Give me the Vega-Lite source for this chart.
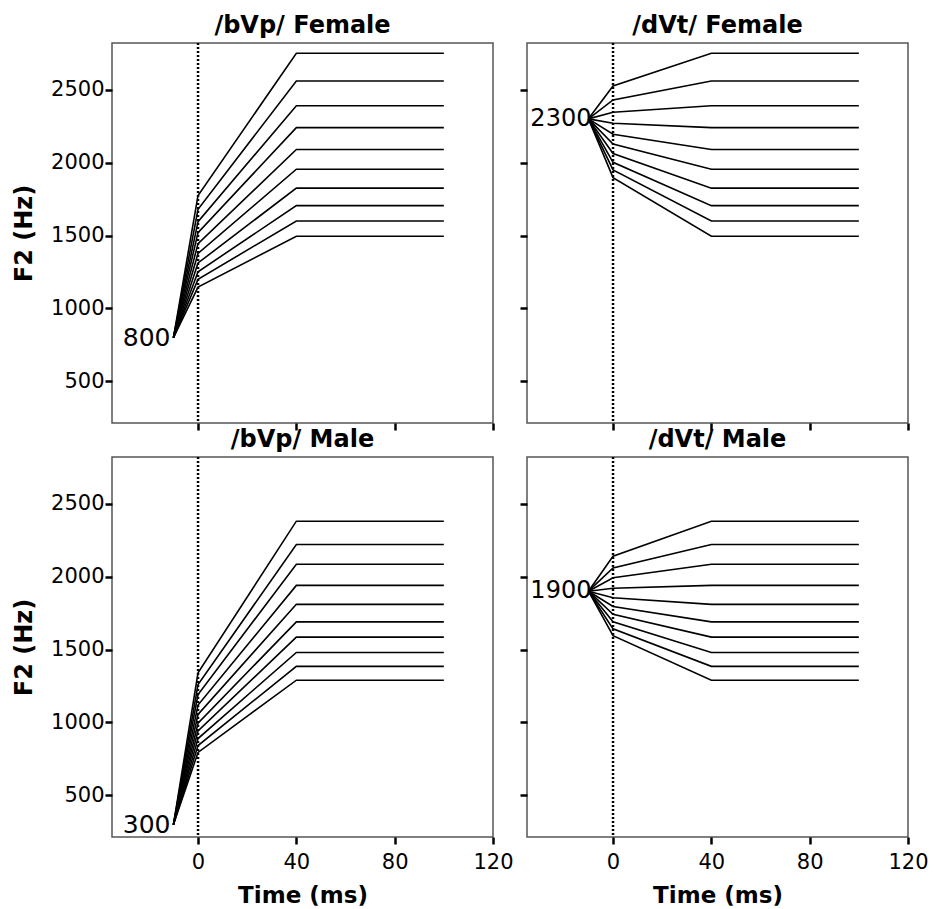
{
  "$schema": "https://vega.github.io/schema/vega-lite/v6.json",
  "autosize": {"type": "pad"},
  "padding": {"left": 11, "top": 13, "right": 5, "bottom": 2},
  "background": "white",
  "datasets": {
    "lines": [
      {"p":"bF","s":1,"t":-10,"f":800},{"p":"bF","s":1,"t":0,"f":1775},{"p":"bF","s":1,"t":40,"f":2750},{"p":"bF","s":1,"t":100,"f":2750},
      {"p":"bF","s":2,"t":-10,"f":800},{"p":"bF","s":2,"t":0,"f":1680},{"p":"bF","s":2,"t":40,"f":2560},{"p":"bF","s":2,"t":100,"f":2560},
      {"p":"bF","s":3,"t":-10,"f":800},{"p":"bF","s":3,"t":0,"f":1595},{"p":"bF","s":3,"t":40,"f":2390},{"p":"bF","s":3,"t":100,"f":2390},
      {"p":"bF","s":4,"t":-10,"f":800},{"p":"bF","s":4,"t":0,"f":1520},{"p":"bF","s":4,"t":40,"f":2240},{"p":"bF","s":4,"t":100,"f":2240},
      {"p":"bF","s":5,"t":-10,"f":800},{"p":"bF","s":5,"t":0,"f":1445},{"p":"bF","s":5,"t":40,"f":2090},{"p":"bF","s":5,"t":100,"f":2090},
      {"p":"bF","s":6,"t":-10,"f":800},{"p":"bF","s":6,"t":0,"f":1377},{"p":"bF","s":6,"t":40,"f":1955},{"p":"bF","s":6,"t":100,"f":1955},
      {"p":"bF","s":7,"t":-10,"f":800},{"p":"bF","s":7,"t":0,"f":1312},{"p":"bF","s":7,"t":40,"f":1825},{"p":"bF","s":7,"t":100,"f":1825},
      {"p":"bF","s":8,"t":-10,"f":800},{"p":"bF","s":8,"t":0,"f":1252},{"p":"bF","s":8,"t":40,"f":1705},{"p":"bF","s":8,"t":100,"f":1705},
      {"p":"bF","s":9,"t":-10,"f":800},{"p":"bF","s":9,"t":0,"f":1200},{"p":"bF","s":9,"t":40,"f":1600},{"p":"bF","s":9,"t":100,"f":1600},
      {"p":"bF","s":10,"t":-10,"f":800},{"p":"bF","s":10,"t":0,"f":1147},{"p":"bF","s":10,"t":40,"f":1495},{"p":"bF","s":10,"t":100,"f":1495},

      {"p":"dF","s":1,"t":-10,"f":2300},{"p":"dF","s":1,"t":0,"f":2525},{"p":"dF","s":1,"t":40,"f":2750},{"p":"dF","s":1,"t":100,"f":2750},
      {"p":"dF","s":2,"t":-10,"f":2300},{"p":"dF","s":2,"t":0,"f":2430},{"p":"dF","s":2,"t":40,"f":2560},{"p":"dF","s":2,"t":100,"f":2560},
      {"p":"dF","s":3,"t":-10,"f":2300},{"p":"dF","s":3,"t":0,"f":2345},{"p":"dF","s":3,"t":40,"f":2390},{"p":"dF","s":3,"t":100,"f":2390},
      {"p":"dF","s":4,"t":-10,"f":2300},{"p":"dF","s":4,"t":0,"f":2270},{"p":"dF","s":4,"t":40,"f":2240},{"p":"dF","s":4,"t":100,"f":2240},
      {"p":"dF","s":5,"t":-10,"f":2300},{"p":"dF","s":5,"t":0,"f":2195},{"p":"dF","s":5,"t":40,"f":2090},{"p":"dF","s":5,"t":100,"f":2090},
      {"p":"dF","s":6,"t":-10,"f":2300},{"p":"dF","s":6,"t":0,"f":2127},{"p":"dF","s":6,"t":40,"f":1955},{"p":"dF","s":6,"t":100,"f":1955},
      {"p":"dF","s":7,"t":-10,"f":2300},{"p":"dF","s":7,"t":0,"f":2062},{"p":"dF","s":7,"t":40,"f":1825},{"p":"dF","s":7,"t":100,"f":1825},
      {"p":"dF","s":8,"t":-10,"f":2300},{"p":"dF","s":8,"t":0,"f":2002},{"p":"dF","s":8,"t":40,"f":1705},{"p":"dF","s":8,"t":100,"f":1705},
      {"p":"dF","s":9,"t":-10,"f":2300},{"p":"dF","s":9,"t":0,"f":1950},{"p":"dF","s":9,"t":40,"f":1600},{"p":"dF","s":9,"t":100,"f":1600},
      {"p":"dF","s":10,"t":-10,"f":2300},{"p":"dF","s":10,"t":0,"f":1897},{"p":"dF","s":10,"t":40,"f":1495},{"p":"dF","s":10,"t":100,"f":1495},

      {"p":"bM","s":1,"t":-10,"f":300},{"p":"bM","s":1,"t":0,"f":1340},{"p":"bM","s":1,"t":40,"f":2380},{"p":"bM","s":1,"t":100,"f":2380},
      {"p":"bM","s":2,"t":-10,"f":300},{"p":"bM","s":2,"t":0,"f":1260},{"p":"bM","s":2,"t":40,"f":2220},{"p":"bM","s":2,"t":100,"f":2220},
      {"p":"bM","s":3,"t":-10,"f":300},{"p":"bM","s":3,"t":0,"f":1192},{"p":"bM","s":3,"t":40,"f":2085},{"p":"bM","s":3,"t":100,"f":2085},
      {"p":"bM","s":4,"t":-10,"f":300},{"p":"bM","s":4,"t":0,"f":1120},{"p":"bM","s":4,"t":40,"f":1940},{"p":"bM","s":4,"t":100,"f":1940},
      {"p":"bM","s":5,"t":-10,"f":300},{"p":"bM","s":5,"t":0,"f":1055},{"p":"bM","s":5,"t":40,"f":1810},{"p":"bM","s":5,"t":100,"f":1810},
      {"p":"bM","s":6,"t":-10,"f":300},{"p":"bM","s":6,"t":0,"f":995},{"p":"bM","s":6,"t":40,"f":1690},{"p":"bM","s":6,"t":100,"f":1690},
      {"p":"bM","s":7,"t":-10,"f":300},{"p":"bM","s":7,"t":0,"f":942},{"p":"bM","s":7,"t":40,"f":1585},{"p":"bM","s":7,"t":100,"f":1585},
      {"p":"bM","s":8,"t":-10,"f":300},{"p":"bM","s":8,"t":0,"f":890},{"p":"bM","s":8,"t":40,"f":1480},{"p":"bM","s":8,"t":100,"f":1480},
      {"p":"bM","s":9,"t":-10,"f":300},{"p":"bM","s":9,"t":0,"f":842},{"p":"bM","s":9,"t":40,"f":1385},{"p":"bM","s":9,"t":100,"f":1385},
      {"p":"bM","s":10,"t":-10,"f":300},{"p":"bM","s":10,"t":0,"f":795},{"p":"bM","s":10,"t":40,"f":1290},{"p":"bM","s":10,"t":100,"f":1290},

      {"p":"dM","s":1,"t":-10,"f":1900},{"p":"dM","s":1,"t":0,"f":2140},{"p":"dM","s":1,"t":40,"f":2380},{"p":"dM","s":1,"t":100,"f":2380},
      {"p":"dM","s":2,"t":-10,"f":1900},{"p":"dM","s":2,"t":0,"f":2060},{"p":"dM","s":2,"t":40,"f":2220},{"p":"dM","s":2,"t":100,"f":2220},
      {"p":"dM","s":3,"t":-10,"f":1900},{"p":"dM","s":3,"t":0,"f":1992},{"p":"dM","s":3,"t":40,"f":2085},{"p":"dM","s":3,"t":100,"f":2085},
      {"p":"dM","s":4,"t":-10,"f":1900},{"p":"dM","s":4,"t":0,"f":1920},{"p":"dM","s":4,"t":40,"f":1940},{"p":"dM","s":4,"t":100,"f":1940},
      {"p":"dM","s":5,"t":-10,"f":1900},{"p":"dM","s":5,"t":0,"f":1855},{"p":"dM","s":5,"t":40,"f":1810},{"p":"dM","s":5,"t":100,"f":1810},
      {"p":"dM","s":6,"t":-10,"f":1900},{"p":"dM","s":6,"t":0,"f":1795},{"p":"dM","s":6,"t":40,"f":1690},{"p":"dM","s":6,"t":100,"f":1690},
      {"p":"dM","s":7,"t":-10,"f":1900},{"p":"dM","s":7,"t":0,"f":1742},{"p":"dM","s":7,"t":40,"f":1585},{"p":"dM","s":7,"t":100,"f":1585},
      {"p":"dM","s":8,"t":-10,"f":1900},{"p":"dM","s":8,"t":0,"f":1690},{"p":"dM","s":8,"t":40,"f":1480},{"p":"dM","s":8,"t":100,"f":1480},
      {"p":"dM","s":9,"t":-10,"f":1900},{"p":"dM","s":9,"t":0,"f":1642},{"p":"dM","s":9,"t":40,"f":1385},{"p":"dM","s":9,"t":100,"f":1385},
      {"p":"dM","s":10,"t":-10,"f":1900},{"p":"dM","s":10,"t":0,"f":1595},{"p":"dM","s":10,"t":40,"f":1290},{"p":"dM","s":10,"t":100,"f":1290}
    ],
    "labels": [
      {"p":"bF","t":-10,"f":800,"label":"800"},
      {"p":"dF","t":-10,"f":2300,"label":"2300"},
      {"p":"bM","t":-10,"f":300,"label":"300"},
      {"p":"dM","t":-10,"f":1900,"label":"1900"}
    ],
    "zero": [{"t":0}]
  },
  "columns": 2,
  "spacing": {"row": 34, "column": 34},
  "bounds": "flush",
  "concat": [
    {
      "title": {"text": "/bVp/ Female"},
      "width": 381, "height": 380,
      "layer": [
        {"data": {"name": "lines"}, "transform": [{"filter": "datum.p === 'bF'"}],
         "mark": {"type": "line", "color": "black", "strokeWidth": 1.6},
         "encoding": {
           "x": {"field": "t", "type": "quantitative", "scale": {"domain": [-35, 120], "nice": false, "zero": false},
                 "axis": {"values": [0, 40, 80, 120], "labels": false, "title": null}},
           "y": {"field": "f", "type": "quantitative", "scale": {"domain": [215, 2820], "nice": false, "zero": false},
                 "axis": {"values": [500, 1000, 1500, 2000, 2500], "format": "d", "title": "F2 (Hz)", "labelPadding": 1, "titlePadding": 14}},
           "detail": {"field": "s", "type": "nominal"}}},
        {"data": {"name": "zero"}, "mark": {"type": "rule", "color": "black", "strokeWidth": 2.5, "strokeDash": [2, 2]},
         "encoding": {"x": {"field": "t", "type": "quantitative", "scale": {"domain": [-35, 120], "nice": false, "zero": false}}}},
        {"data": {"name": "labels"}, "transform": [{"filter": "datum.p === 'bF'"}],
         "mark": {"type": "text", "align": "right", "baseline": "middle", "fontSize": 25, "font": "DejaVu Sans", "dx": -3, "color": "black"},
         "encoding": {
           "x": {"field": "t", "type": "quantitative", "scale": {"domain": [-35, 120], "nice": false, "zero": false}},
           "y": {"field": "f", "type": "quantitative", "scale": {"domain": [215, 2820], "nice": false, "zero": false}},
           "text": {"field": "label"}}}
      ]
    },
    {
      "title": {"text": "/dVt/ Female"},
      "width": 381, "height": 380,
      "layer": [
        {"data": {"name": "lines"}, "transform": [{"filter": "datum.p === 'dF'"}],
         "mark": {"type": "line", "color": "black", "strokeWidth": 1.6},
         "encoding": {
           "x": {"field": "t", "type": "quantitative", "scale": {"domain": [-35, 120], "nice": false, "zero": false},
                 "axis": {"values": [0, 40, 80, 120], "labels": false, "title": null}},
           "y": {"field": "f", "type": "quantitative", "scale": {"domain": [215, 2820], "nice": false, "zero": false},
                 "axis": {"values": [500, 1000, 1500, 2000, 2500], "labels": false, "title": null}},
           "detail": {"field": "s", "type": "nominal"}}},
        {"data": {"name": "zero"}, "mark": {"type": "rule", "color": "black", "strokeWidth": 2.5, "strokeDash": [2, 2]},
         "encoding": {"x": {"field": "t", "type": "quantitative", "scale": {"domain": [-35, 120], "nice": false, "zero": false}}}},
        {"data": {"name": "labels"}, "transform": [{"filter": "datum.p === 'dF'"}],
         "mark": {"type": "text", "align": "right", "baseline": "middle", "fontSize": 24, "font": "DejaVu Sans", "dx": 3, "color": "black"},
         "encoding": {
           "x": {"field": "t", "type": "quantitative", "scale": {"domain": [-35, 120], "nice": false, "zero": false}},
           "y": {"field": "f", "type": "quantitative", "scale": {"domain": [215, 2820], "nice": false, "zero": false}},
           "text": {"field": "label"}}}
      ]
    },
    {
      "title": {"text": "/bVp/ Male"},
      "width": 381, "height": 380,
      "layer": [
        {"data": {"name": "lines"}, "transform": [{"filter": "datum.p === 'bM'"}],
         "mark": {"type": "line", "color": "black", "strokeWidth": 1.6},
         "encoding": {
           "x": {"field": "t", "type": "quantitative", "scale": {"domain": [-35, 120], "nice": false, "zero": false},
                 "axis": {"values": [0, 40, 80, 120], "title": "Time (ms)", "titleFontSize": 23, "labelPadding": 7, "titlePadding": 12, "labelFlush": false}},
           "y": {"field": "f", "type": "quantitative", "scale": {"domain": [215, 2820], "nice": false, "zero": false},
                 "axis": {"values": [500, 1000, 1500, 2000, 2500], "format": "d", "title": "F2 (Hz)", "labelPadding": 1, "titlePadding": 14}},
           "detail": {"field": "s", "type": "nominal"}}},
        {"data": {"name": "zero"}, "mark": {"type": "rule", "color": "black", "strokeWidth": 2.5, "strokeDash": [2, 2]},
         "encoding": {"x": {"field": "t", "type": "quantitative", "scale": {"domain": [-35, 120], "nice": false, "zero": false}}}},
        {"data": {"name": "labels"}, "transform": [{"filter": "datum.p === 'bM'"}],
         "mark": {"type": "text", "align": "right", "baseline": "middle", "fontSize": 25, "font": "DejaVu Sans", "dx": -3, "color": "black"},
         "encoding": {
           "x": {"field": "t", "type": "quantitative", "scale": {"domain": [-35, 120], "nice": false, "zero": false}},
           "y": {"field": "f", "type": "quantitative", "scale": {"domain": [215, 2820], "nice": false, "zero": false}},
           "text": {"field": "label"}}}
      ]
    },
    {
      "title": {"text": "/dVt/ Male"},
      "width": 381, "height": 380,
      "layer": [
        {"data": {"name": "lines"}, "transform": [{"filter": "datum.p === 'dM'"}],
         "mark": {"type": "line", "color": "black", "strokeWidth": 1.6},
         "encoding": {
           "x": {"field": "t", "type": "quantitative", "scale": {"domain": [-35, 120], "nice": false, "zero": false},
                 "axis": {"values": [0, 40, 80, 120], "title": "Time (ms)", "titleFontSize": 23, "labelPadding": 7, "titlePadding": 12, "labelFlush": false}},
           "y": {"field": "f", "type": "quantitative", "scale": {"domain": [215, 2820], "nice": false, "zero": false},
                 "axis": {"values": [500, 1000, 1500, 2000, 2500], "labels": false, "title": null}},
           "detail": {"field": "s", "type": "nominal"}}},
        {"data": {"name": "zero"}, "mark": {"type": "rule", "color": "black", "strokeWidth": 2.5, "strokeDash": [2, 2]},
         "encoding": {"x": {"field": "t", "type": "quantitative", "scale": {"domain": [-35, 120], "nice": false, "zero": false}}}},
        {"data": {"name": "labels"}, "transform": [{"filter": "datum.p === 'dM'"}],
         "mark": {"type": "text", "align": "right", "baseline": "middle", "fontSize": 24, "font": "DejaVu Sans", "dx": 3, "color": "black"},
         "encoding": {
           "x": {"field": "t", "type": "quantitative", "scale": {"domain": [-35, 120], "nice": false, "zero": false}},
           "y": {"field": "f", "type": "quantitative", "scale": {"domain": [215, 2820], "nice": false, "zero": false}},
           "text": {"field": "label"}}}
      ]
    }
  ],
  "config": {
    "view": {"stroke": "#555555", "strokeWidth": 1.5},
    "title": {"font": "DejaVu Sans", "fontSize": 24, "fontWeight": "bold", "color": "black", "anchor": "middle", "offset": 4},
    "axis": {
      "grid": false, "domain": false, "ticks": true, "tickColor": "black", "tickWidth": 2.5, "tickSize": 7,
      "labelFont": "DejaVu Sans", "labelFontSize": 21, "labelColor": "black",
      "titleFont": "DejaVu Sans", "titleFontSize": 24, "titleFontWeight": "bold", "titleColor": "black"
    }
  }
}
